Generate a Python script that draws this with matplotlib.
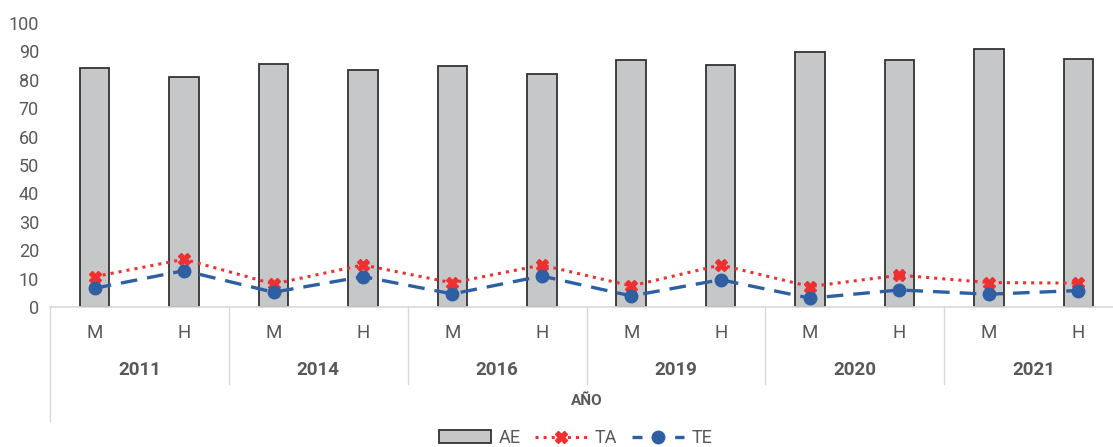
import matplotlib.pyplot as plt
import matplotlib.transforms as mtransforms
from matplotlib.lines import Line2D
from matplotlib.patches import Patch
import numpy as np

# data
years = ['2011', '2014', '2016', '2019', '2020', '2021']
sexes = ['M', 'H']
ae = [84.3, 81.0, 85.4, 83.4, 85.0, 82.1, 87.1, 85.2, 89.9, 87.1, 90.8, 87.3]
ta = [10.7, 16.8, 8.1, 14.8, 8.5, 14.8, 7.4, 14.8, 7.2, 11.2, 8.6, 8.4]
te = [6.6, 12.8, 5.2, 10.7, 4.6, 10.9, 3.9, 9.6, 3.1, 6.0, 4.5, 5.8]

plt.rcParams['font.family'] = ['Liberation Sans Narrow', 'Roboto', 'DejaVu Sans']
txt = '#595959'

fig = plt.figure(figsize=(11.13, 4.47), dpi=100)
ax = fig.add_axes([50/1113, 140/447, 1073/1113, 284/447])

x = np.arange(len(ae))
ax.bar(x, ae, width=0.33, color='#c6c7c9', edgecolor='#333333', linewidth=1.3, zorder=2)
ax.plot(x, ta, color='#ee3030', linestyle=':', linewidth=2.2, marker='X',
        markersize=9, zorder=3)
ax.plot(x, te, color='#2e5fa3', linestyle=(0, (5, 3)), linewidth=2.4, marker='o',
        markersize=9, zorder=4)

ax.set_xlim(-0.5, len(ae) - 0.5)
ax.set_ylim(0, 100)
ax.set_yticks(range(0, 101, 10))
ax.tick_params(axis='y', length=0, labelsize=13, labelcolor=txt, pad=8)
ax.set_xticks(x)
ax.set_xticklabels(sexes * len(years))
ax.tick_params(axis='x', length=0, labelsize=13.5, labelcolor=txt, pad=12)
for s in ['top', 'right', 'left']:
    ax.spines[s].set_visible(False)
ax.spines['bottom'].set_color('#d9d9d9')
ax.spines['bottom'].set_linewidth(1.2)

# group separators and year labels
trans = mtransforms.blended_transform_factory(ax.transData, ax.transAxes)
for i in range(len(years) + 1):
    xs = i * 2 - 0.5
    low = -0.401 if i == 0 else -0.271
    ax.plot([xs, xs], [0, low], color='#d9d9d9', linewidth=1, transform=trans, clip_on=False)
for i, yr in enumerate(years):
    ax.text(i * 2 + 0.5, -0.222, yr, transform=trans, ha='center', va='center',
            fontsize=13.5, fontweight='bold', color=txt)
ax.text(5.5, -0.331, 'AÑO', transform=trans, ha='center', va='center',
        fontsize=11, fontweight='bold', color=txt)

handles = [
    Patch(facecolor='#c6c7c9', edgecolor='#333333', linewidth=1.3),
    Line2D([], [], color='#ee3030', linestyle=':', linewidth=2.2, marker='X', markersize=9),
    Line2D([], [], color='#2e5fa3', linestyle=(0, (3, 3.4)), linewidth=2.4, marker='o', markersize=9),
]
leg = fig.legend(handles, ['AE', 'TA', 'TE'], loc='center', bbox_to_anchor=(0.517, 0.02),
                 ncol=3, frameon=False, fontsize=13, handlelength=2.9, columnspacing=0.8,
                 handletextpad=0.4)
for t in leg.get_texts():
    t.set_color(txt)

plt.savefig('out.png', dpi=100)
